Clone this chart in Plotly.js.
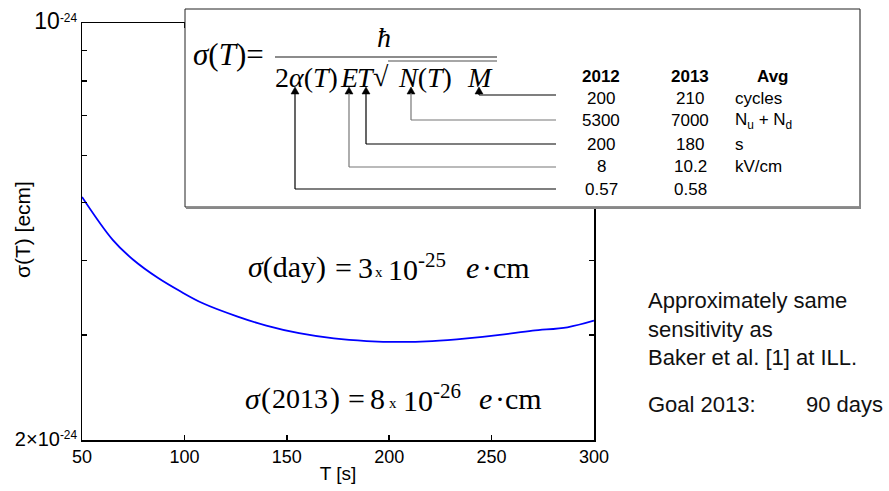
<!DOCTYPE html>
<html>
<head>
<meta charset="utf-8">
<script src="https://cdn.plot.ly/plotly-3.0.1.min.js"></script>
<style>html,body{margin:0;padding:0;background:#fff;}#chart{width:889px;height:491px;}</style>
</head>
<body>
<div id="chart"></div>
<script>
// ---- data ----
const T_values = [50, 65, 75, 87, 98, 109, 126, 140, 156, 173, 189, 205, 221, 238, 254, 270, 287, 300];
const sigma_values = [5.11e-25, 4.33e-25, 4.01e-25, 3.74e-25, 3.55e-25, 3.39e-25, 3.22e-25, 3.11e-25, 3.02e-25,
                      2.96e-25, 2.93e-25, 2.92e-25, 2.93e-25, 2.96e-25, 3.00e-25, 3.05e-25, 3.09e-25, 3.17e-25];
const xTickVals = [50, 100, 150, 200, 250, 300];
const yTickVals = [2e-25, 1e-24];
const yTickText = ['<span style="font-size:20px">2\u00d710</span><sup>-24</sup>', '<span style="font-size:23px">10</span><sup>-24</sup>'];
const yMinorVals = [3e-25, 4e-25, 5e-25, 6e-25, 7e-25, 8e-25, 9e-25];
const tableHeader = ['2012', '2013', 'Avg'];
const col2012 = ['200', '5300', '200', '8', '0.57'];
const col2013 = ['210', '7000', '180', '10.2', '0.58'];
const colUnits = ['cycles', 'N<sub>u</sub> + N<sub>d</sub>', 's', 'kV/cm', ''];

// ---- layout geometry ----
const W = 889, H = 491, L = 82, R = 295, TOP = 23, B = 51;
const pw = W - L - R, ph = H - TOP - B;
const PX = x => (x - L) / pw;
const PY = y => (H - B - y) / ph;

const serif = 'Liberation Serif';
const sans = 'Liberation Sans';

const ann = [];
const shapes = [];

// inset box
shapes.push({type: 'rect', xref: 'paper', yref: 'paper', x0: PX(185), x1: PX(860), y0: PY(207), y1: PY(9),
  fillcolor: '#ffffff', line: {color: '#222', width: 1}, layer: 'above'});
shapes.push({type: 'line', xref: 'paper', yref: 'paper', x0: PX(860), x1: PX(860), y0: PY(208), y1: PY(10),
  line: {color: '#888', width: 2}, layer: 'above'});
shapes.push({type: 'line', xref: 'paper', yref: 'paper', x0: PX(186), x1: PX(861), y0: PY(208), y1: PY(208),
  line: {color: '#888', width: 2}, layer: 'above'});

function txt(text, x, y, size, xanchor, family, color, extra) {
  ann.push(Object.assign({text: text, xref: 'paper', yref: 'paper', x: PX(x), y: PY(y), showarrow: false,
    xanchor: xanchor || 'left', yanchor: 'middle', borderpad: 0,
    font: {family: family || serif, size: size, color: color || '#000'}}, extra || {}));
}
function hline(x0, x1, y, color, width) {
  shapes.push({type: 'line', xref: 'paper', yref: 'paper', x0: PX(x0), x1: PX(x1), y0: PY(y), y1: PY(y),
    line: {color: color, width: width}, layer: 'above'});
}
function vline(x, y0, y1, color, width) {
  shapes.push({type: 'line', xref: 'paper', yref: 'paper', x0: PX(x), x1: PX(x), y0: PY(y0), y1: PY(y1),
    line: {color: color, width: width}, layer: 'above'});
}
function head(x, yTip) {
  const p = 'M' + PX(x) + ',' + PY(yTip) + ' L' + PX(x - 4) + ',' + PY(yTip + 7) + ' L' + PX(x + 4) + ',' + PY(yTip + 7) + ' Z';
  shapes.push({type: 'path', xref: 'paper', yref: 'paper', path: p, fillcolor: '#000', line: {color: '#000', width: 0.5}, layer: 'above'});
}

// formula
txt('<i>σ</i>(<i>T</i>)=', 192, 55, 31, 'left');
txt('<i>ħ</i>', 384, 37, 28, 'center');
hline(275, 497, 57, '#666', 1.5);
txt('2<i>α</i>(<i>T</i>)', 274, 78, 28, 'left');
txt('<i>E</i>', 349, 78, 28, 'center');
txt('<i>T</i>', 366, 78, 28, 'center');
txt('√', 381, 76, 28, 'center');
txt('<i>N</i>(<i>T</i>)', 397, 78, 28, 'left');
txt('<i>M</i>', 480, 78, 28, 'center');
hline(388, 497, 61, '#888', 1.5);

// arrows from table rows to the symbols
const arrowX = [479, 411, 366, 349, 295];
const arrowY = [95, 120, 144, 167, 189];
const arrowC = ['#000', '#777', '#000', '#777', '#000'];
for (let i = 0; i < arrowX.length; i++) {
  head(arrowX[i], 87);
  vline(arrowX[i], 93, arrowY[i], arrowC[i], 1.2);
  hline(arrowX[i], 556, arrowY[i], arrowC[i], 1.2);
}

// table
const tf = 17;
txt('<b>' + tableHeader[0] + '</b>', 601, 77, tf, 'center', sans);
txt('<b>' + tableHeader[1] + '</b>', 690, 77, tf, 'center', sans);
txt('<b>' + tableHeader[2] + '</b>', 773, 77, tf, 'center', sans);
const rowY = [99, 121, 144, 167, 190];
for (let i = 0; i < rowY.length; i++) {
  txt(col2012[i], 601, rowY[i], tf, 'center', sans);
  txt(col2013[i], 690, rowY[i], tf, 'center', sans);
  if (colUnits[i]) txt(colUnits[i], 734, rowY[i], tf, 'left', sans);
}

// result annotations (pieces to mimic equation spacing)
const fs = 30;
// sigma(day)
txt('<i>σ</i>(day)', 247, 267, fs, 'left');
txt('=', 343, 267, fs, 'center');
txt('3', 365, 267, fs, 'center');
txt('x', 379, 272, 15, 'center');
txt('10<sup>-25</sup>', 387, 267, fs, 'left');
txt('<i>e</i>', 472, 267, fs, 'center');
txt('·', 487, 267, fs, 'center');
txt('cm', 531, 267, fs, 'right');
// sigma(2013)
txt('<i>σ</i>', 253, 398, fs, 'center');
txt('(', 266, 398, fs, 'center');
txt('2013', 300, 398, 28, 'center');
txt(')', 335, 398, fs, 'center');
txt('=', 356, 398, fs, 'center');
txt('8', 377, 398, fs, 'center');
txt('x', 393, 403, 15, 'center');
txt('10<sup>-26</sup>', 402, 398, fs, 'left');
txt('<i>e</i>', 485, 398, fs, 'center');
txt('·', 500, 398, fs, 'center');
txt('cm', 543, 398, fs, 'right');

// axis title for y (placed as rotated text)
txt('σ(T) [ecm]', 22, 230, 21, 'center', sans, '#000', {textangle: -90});

// right-hand notes
txt('Approximately same<br>sensitivity as<br>Baker et al. [1] at ILL.', 647, 329, 22, 'left', sans, '#111', {align: 'left'});
txt('Goal 2013:', 647, 404, 22, 'left', sans, '#111');
txt('90 days', 884, 404, 22, 'right', sans, '#111');

const trace = {x: T_values, y: sigma_values, type: 'scatter', mode: 'lines',
  line: {color: '#0000ff', width: 1.8, shape: 'spline', smoothing: 1}, showlegend: false, hoverinfo: 'skip'};

const layout = {
  width: W, height: H,
  margin: {l: L, r: R, t: TOP, b: B, pad: 0},
  paper_bgcolor: '#fff', plot_bgcolor: '#fff',
  showlegend: false,
  xaxis: {range: [50, 300], tickmode: 'array', tickvals: xTickVals, ticks: 'inside', ticklen: 5, tickwidth: 1.5,
    tickcolor: '#000', showline: true, linecolor: '#000', linewidth: 1.5, mirror: 'ticks', showgrid: false,
    zeroline: false, tickfont: {family: sans, size: 18, color: '#000'},
    title: {text: 'T [s]', font: {family: sans, size: 19, color: '#000'}, standoff: 0}},
  yaxis: {type: 'log', range: [Math.log10(2e-25), -24], tickmode: 'array', tickvals: yTickVals, ticktext: yTickText,
    ticks: 'inside', ticklen: 5, tickwidth: 1.5, tickcolor: '#000', showline: true, linecolor: '#000', linewidth: 1.5,
    mirror: 'ticks', showgrid: false, zeroline: false, tickfont: {family: sans, size: 17, color: '#000'},
    minor: {tickmode: 'array', tickvals: yMinorVals, ticks: 'inside', ticklen: 5, tickwidth: 1.5, tickcolor: '#000', showgrid: false}},
  shapes: shapes,
  annotations: ann
};

Plotly.newPlot('chart', [trace], layout, {displayModeBar: false, staticPlot: true});
</script>
</body>
</html>
